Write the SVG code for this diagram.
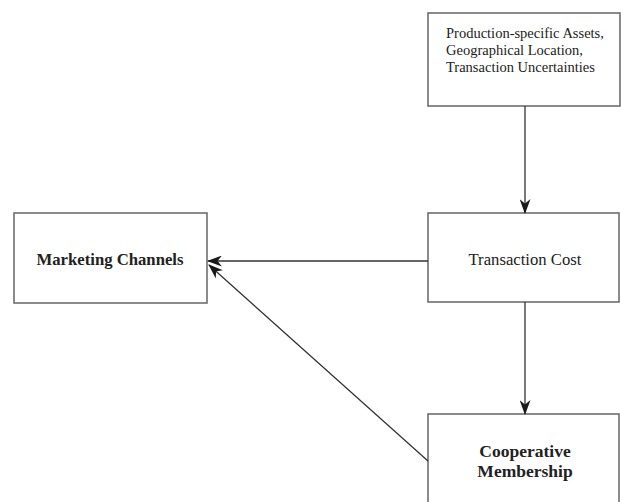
<svg xmlns="http://www.w3.org/2000/svg" width="621" height="502" viewBox="0 0 621 502">
<defs>
<marker id="ah" viewBox="0 0 15 11" refX="14" refY="5.5" markerWidth="15" markerHeight="11" markerUnits="userSpaceOnUse" orient="auto">
<path d="M0,0 L15,5.5 L0,11 L4.5,5.5 Z" fill="#1a1a1a"/>
</marker>
<style>
.box{fill:#fff;stroke:#6e6e6e;stroke-width:1.6}
.t{font-family:"Liberation Serif","Times New Roman",serif;fill:#222}
.b{font-weight:bold}
.c{stroke:#333;stroke-width:1.3;fill:none;marker-end:url(#ah)}
</style>
</defs>
<rect width="621" height="502" fill="#fff"/>
<g id="n-factors">
<rect class="box" x="428" y="13" width="192" height="93"/>
<text class="t" font-size="14.5" x="446" y="38">Production-specific Assets,</text>
<text class="t" font-size="14.5" x="446" y="55">Geographical Location,</text>
<text class="t" font-size="14.5" x="446" y="72">Transaction Uncertainties</text>
</g>
<g id="n-cost">
<rect class="box" x="428" y="213" width="191" height="89"/>
<text class="t" font-size="16.7" x="525" y="265" text-anchor="middle">Transaction Cost</text>
</g>
<g id="n-marketing">
<rect class="box" x="14" y="213" width="193" height="90"/>
<text class="t b" font-size="16.7" x="110" y="265" text-anchor="middle">Marketing Channels</text>
</g>
<g id="n-coop">
<rect class="box" x="428" y="414" width="191" height="100"/>
<text class="t b" font-size="17.5" x="525" y="457" text-anchor="middle">Cooperative</text>
<text class="t b" font-size="17.5" x="525" y="477" text-anchor="middle">Membership</text>
</g>
<g id="connectors">
<line class="c" x1="525" y1="106" x2="525" y2="213"/>
<line class="c" x1="525" y1="302" x2="525" y2="414"/>
<line class="c" x1="428" y1="261" x2="208" y2="261"/>
<line class="c" x1="428" y1="461" x2="209" y2="265"/>
</g>
</svg>
